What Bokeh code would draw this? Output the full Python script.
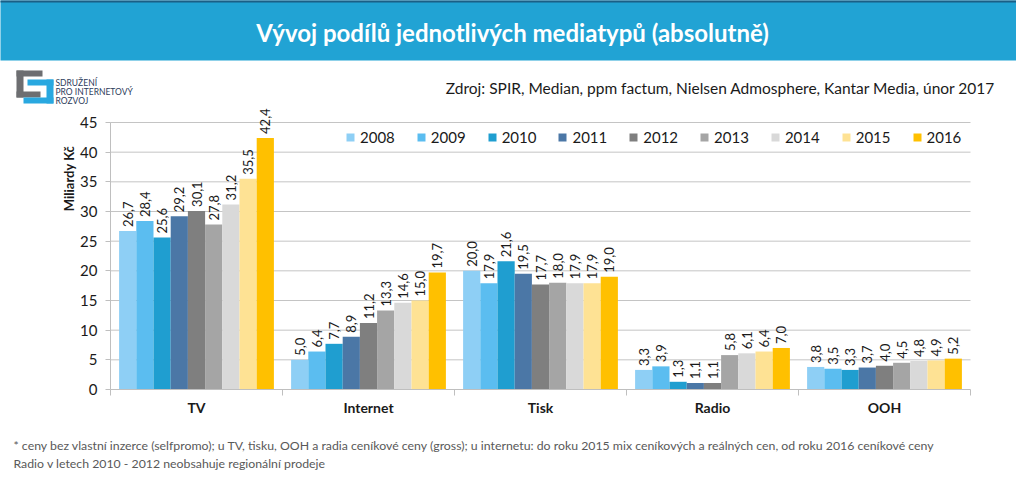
import math
from bokeh.plotting import figure
from bokeh.models import ColumnDataSource, Range1d, FixedTicker, Legend, LegendItem
from bokeh.transform import dodge
from bokeh.embed import file_html
from bokeh.resources import INLINE
from bokeh.core.properties import value

# ---------------- data ----------------
categories = ["TV", "Internet", "Tisk", "Radio", "OOH"]
years = ["2008", "2009", "2010", "2011", "2012", "2013", "2014", "2015", "2016"]
v2008 = [26.7, 5.0, 20.0, 3.3, 3.8]
v2009 = [28.4, 6.4, 17.9, 3.9, 3.5]
v2010 = [25.6, 7.7, 21.6, 1.3, 3.3]
v2011 = [29.2, 8.9, 19.5, 1.1, 3.7]
v2012 = [30.1, 11.2, 17.7, 1.1, 4.0]
v2013 = [27.8, 13.3, 18.0, 5.8, 4.5]
v2014 = [31.2, 14.6, 17.9, 6.1, 4.8]
v2015 = [35.5, 15.0, 17.9, 6.4, 4.9]
v2016 = [42.4, 19.7, 19.0, 7.0, 5.2]
series = [v2008, v2009, v2010, v2011, v2012, v2013, v2014, v2015, v2016]
colors = ["#8ECFF5", "#5BBDF0", "#1F9ED0", "#4B77A6", "#7F7F7F",
          "#A5A5A5", "#D9D9D9", "#FEE294", "#FFC000"]
yticks = [0, 5, 10, 15, 20, 25, 30, 35, 40, 45]

title_text = "Vývoj podílů jednotlivých mediatypů (absolutně)"
source_text = "Zdroj: SPIR, Median, ppm factum, Nielsen Admosphere, Kantar Media, únor 2017"
y_label = "Miliardy Kč"
logo_lines = ["SDRUŽENÍ", "PRO INTERNETOVÝ", "ROZVOJ"]
notes = ["* ceny bez  vlastní inzerce (selfpromo); u TV, tisku, OOH a radia ceníkové ceny (gross); "
         "u internetu: do roku 2015 mix ceníkových a reálných cen, od roku 2016 ceníkové ceny",
         "Radio v letech 2010 - 2012 neobsahuje regionální prodeje"]

FONT = "Lato"
W, H = 1016, 478
BLUE = "#21A3D4"

# layout: plot area (0..ncat, 0..45) occupies pixels x 110..970, y 122..389
ncat = len(categories)
FX0, FX1, FY0, FY1 = 110, 970, 122, 389
PX = (FX1 - FX0) / ncat
PY = (FY1 - FY0) / yticks[-1]


def X(px):
    return (px - FX0) / PX


def Y(py):
    return (FY1 - py) / PY


p = figure(width=W, height=H, x_range=Range1d(X(0), X(W)), y_range=Range1d(Y(H), Y(0)),
           output_backend="svg", toolbar_location=None, min_border=0)
p.outline_line_color = None
p.xgrid.visible = False
p.ygrid.visible = False

# ---- banner ----
p.quad(left=X(-20), right=X(W + 20), top=Y(-20), bottom=Y(60), fill_color=BLUE, line_color=None)
p.quad(left=X(-20), right=X(W + 20), top=Y(-20), bottom=Y(2), fill_color="#1B5F86", line_color=None)
p.text(x=[X(512)], y=[Y(32)], text=[title_text], text_align="center", text_baseline="middle",
       text_font=value(FONT), text_font_style="bold", text_font_size="24px", text_color="white")
p.text(x=[X(995)], y=[Y(87)], text=[source_text], text_align="right", text_baseline="middle",
       text_font=value(FONT), text_font_size="15.5px", text_color="#1A1A1A")

# ---- logo ----
p.quad(left=[X(16), X(16), X(16)], right=[X(42), X(23), X(40)],
       top=[Y(70), Y(70), Y(91)], bottom=[Y(76), Y(97), Y(97)],
       fill_color="#6D6E71", line_color=None)
p.quad(left=[X(27), X(46), X(23)], right=[X(53), X(53), X(53)],
       top=[Y(79), Y(79), Y(97)], bottom=[Y(85), Y(103), Y(103)],
       fill_color="#29A8E0", line_color=None)
p.text(x=[X(55)] * 3, y=[Y(82), Y(91), Y(100)], text=logo_lines, text_align="left",
       text_baseline="middle", text_font=value(FONT), text_font_size="8.5px",
       text_color="#2E3D5C")

# ---- gridlines ----
p.segment(x0=0, x1=ncat, y0=yticks[1:], y1=yticks[1:], line_color="#C4C4C4", line_width=1)

# ---- bars and value labels ----
centers = [i + 0.5 for i in range(ncat)]
data = {"cat": categories, "xc": centers}
for yr, vals in zip(years, series):
    data[yr] = vals
    data[yr + "_lbl"] = [("%.1f" % v).replace(".", ",") for v in vals]
src = ColumnDataSource(data)

n = len(years)
bw = 0.9 / n
items = []
for i, (yr, col) in enumerate(zip(years, colors)):
    off = -0.45 + bw * (i + 0.5)
    r = p.vbar(x=dodge("xc", off), top=yr, width=bw, source=src,
               fill_color=col, line_color=None)
    p.text(x=dodge("xc", off), y=yr, text=yr + "_lbl", source=src,
           angle=math.pi / 2, text_align="left", text_baseline="middle", y_offset=-4,
           text_font=value(FONT), text_font_size="13px", text_color="#1A1A1A")
    items.append(LegendItem(label=yr, renderers=[r]))

# legend anchored (bottom-left) relative to the canvas bottom-left
legend = Legend(items=items, orientation="horizontal", location=(345, 323 + (H - 469)),
                padding=0, spacing=21, glyph_width=10, glyph_height=10, label_standoff=5,
                label_text_font=FONT, label_text_font_size="15px",
                label_text_color="#1A1A1A", background_fill_alpha=0,
                border_line_color=None, margin=0)
p.add_layout(legend)

# ---- axes (fixed inside the canvas) ----
ya = p.yaxis[0]
ya.fixed_location = 0
ya.ticker = FixedTicker(ticks=yticks)
ya.bounds = (0, yticks[-1])
ya.axis_line_color = "#BFBFBF"
ya.major_tick_line_color = "#BFBFBF"
ya.major_tick_out = 5
ya.major_tick_in = 0
ya.minor_tick_line_color = None
ya.major_label_text_font = FONT
ya.major_label_text_font_size = "15px"
ya.major_label_text_color = "#1A1A1A"
ya.major_label_standoff = 8

xa = p.xaxis[0]
xa.fixed_location = 0
xa.bounds = (0, ncat)
xa.ticker = FixedTicker(ticks=centers, minor_ticks=list(range(ncat + 1)))
xa.major_label_overrides = dict(zip(centers, categories))
xa.axis_line_color = "#BFBFBF"
xa.major_tick_line_color = None
xa.major_tick_out = 0
xa.major_tick_in = 0
xa.minor_tick_line_color = "#BFBFBF"
xa.minor_tick_out = 6
xa.minor_tick_in = 0
xa.major_label_text_font = FONT
xa.major_label_text_font_style = "bold"
xa.major_label_text_font_size = "14px"
xa.major_label_text_color = "#1A1A1A"
xa.major_label_standoff = 3

p.text(x=[X(68)], y=[Y(178)], text=[y_label], angle=math.pi / 2, text_align="center",
       text_baseline="middle", text_font=value(FONT), text_font_style="bold",
       text_font_size="13px", text_color="#1A1A1A")

# ---- footnotes ----
p.text(x=[X(13), X(13)], y=[Y(445), Y(463)], text=notes, text_align="left",
       text_baseline="middle", text_font=value(FONT), text_font_size="12.3px",
       text_color="#595959")

open("out.html", "w").write(file_html(p, INLINE))
